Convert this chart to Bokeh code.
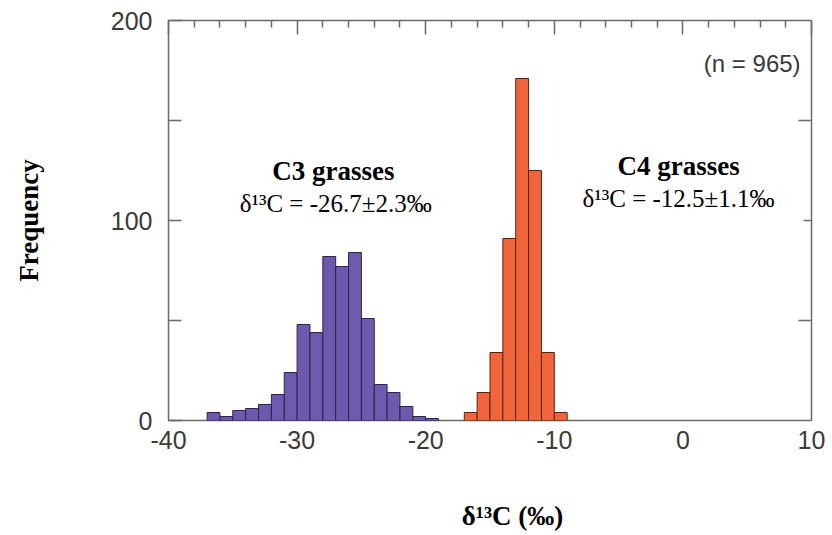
from bokeh.plotting import figure
from bokeh.models import LinearAxis, FixedTicker, Label, CustomJSTickFormatter
from bokeh.embed import file_html
from bokeh.resources import INLINE

# ---- data ----
c3_left = [-37, -36, -35, -34, -33, -32, -31, -30, -29, -28, -27, -26, -25, -24, -23, -22, -21, -20]
c3_counts = [4, 2, 5, 6, 8, 13, 24, 48, 44, 82, 77, 84, 51, 18, 14, 7, 2, 1]
c4_left = [-17, -16, -15, -14, -13, -12, -11, -10]
c4_counts = [4, 14, 34, 91, 171, 125, 34, 4]
bin_width = 1

x_ticks = [-40, -30, -20, -10, 0, 10]
x_labels = {-40: "-40", -30: "-30", -20: "-20", -10: "-10", 0: "0", 10: "10"}
x_minor = [-38, -36, -34, -32, -28, -26, -24, -22, -18, -16, -14, -12, -8, -6, -4, -2, 2, 4, 6, 8]
y_ticks = [0, 50, 100, 150, 200]
y_labels = {0: "0", 50: "", 100: "100", 150: "", 200: "200"}

x_title = "δ¹³C (‰)"
y_title = "Frequency"

PURPLE = "#6e5aad"
ORANGE = "#f0653b"
FRAME = "#6a6a6a"
TICKTXT = "#3a3a3a"
SANS = "Liberation Sans"
SERIF = "Liberation Serif"

p = figure(width=832, height=535, x_range=(-40, 10), y_range=(0, 200),
           output_backend="svg", toolbar_location=None,
           x_axis_location=None, y_axis_location=None,
           min_border_left=168, min_border_right=21,
           min_border_top=20, min_border_bottom=115)
p.background_fill_color = "white"
p.border_fill_color = "white"
p.outline_line_color = FRAME
p.outline_line_width = 1.5
p.xgrid.visible = False
p.ygrid.visible = False

# bars
p.quad(left=c3_left, right=[v + bin_width for v in c3_left], bottom=0, top=c3_counts,
       fill_color=PURPLE, line_color="#2b2350", line_width=1)
p.quad(left=c4_left, right=[v + bin_width for v in c4_left], bottom=0, top=c4_counts,
       fill_color=ORANGE, line_color="#5a2414", line_width=1)

# bottom axis (tick numbers)
xb = LinearAxis(ticker=FixedTicker(ticks=x_ticks), axis_line_color=None,
                major_tick_in=0, major_tick_out=0, minor_tick_in=0, minor_tick_out=0,
                major_label_overrides=x_labels,
                major_label_standoff=10, major_label_text_font=SANS,
                major_label_text_font_size="25px", major_label_text_color=TICKTXT)
p.add_layout(xb, "below")

# second bottom "axis" carrying the x title at its position in the reference
xlab = LinearAxis(ticker=FixedTicker(ticks=[-13.25]), axis_line_color=None,
                  major_tick_in=0, major_tick_out=0, minor_tick_in=0, minor_tick_out=0,
                  formatter=CustomJSTickFormatter(code='return "%s";' % x_title),
                  major_label_standoff=49, major_label_text_font=SERIF,
                  major_label_text_font_style="bold",
                  major_label_text_font_size="27px", major_label_text_color="black")
p.add_layout(xlab, "below")

# left axis
yl = LinearAxis(ticker=FixedTicker(ticks=y_ticks), axis_line_color=None,
                major_tick_in=13, major_tick_out=0, major_tick_line_color=FRAME,
                major_tick_line_width=1.5,
                minor_tick_in=0, minor_tick_out=0,
                major_label_overrides=y_labels, major_label_standoff=16,
                major_label_text_font=SANS, major_label_text_font_size="25px",
                major_label_text_color=TICKTXT,
                axis_label=y_title, axis_label_standoff=64,
                axis_label_text_font=SERIF, axis_label_text_font_style="bold",
                axis_label_text_font_size="27px", axis_label_text_color="black")
p.add_layout(yl, "left")

# top axis (ticks only, inward)
xt = LinearAxis(ticker=FixedTicker(ticks=x_ticks, minor_ticks=x_minor), axis_line_color=None,
                major_tick_in=14, major_tick_out=0, minor_tick_in=7, minor_tick_out=0,
                major_tick_line_color=FRAME, minor_tick_line_color=FRAME,
                major_tick_line_width=1.5, minor_tick_line_width=1.5,
                major_label_text_font_size="1px", major_label_text_color=None,
                major_label_standoff=0)
p.add_layout(xt, "above")

# right axis (ticks only, inward)
yr = LinearAxis(ticker=FixedTicker(ticks=[50, 150], minor_ticks=[100]), axis_line_color=None,
                major_tick_in=13, major_tick_out=0, minor_tick_in=8, minor_tick_out=0,
                major_tick_line_color=FRAME, minor_tick_line_color=FRAME,
                major_tick_line_width=1.5, minor_tick_line_width=1.5,
                major_label_text_font_size="1px", major_label_text_color=None,
                major_label_standoff=0)
p.add_layout(yr, "right")

# in-plot texts
def lab(x, y, text, font, size, style="normal", align="center", baseline="alphabetic",
        color="black"):
    p.add_layout(Label(x=x, y=y, text=text, text_font=font, text_font_size=size,
                       text_font_style=style, text_align=align, text_baseline=baseline,
                       text_color=color))

lab(-27.17, 124.6, "C3 grasses", SERIF, "27px", "bold")
lab(-27.0, 108.6, "δ¹³C = -26.7±2.3‰", SERIF, "25px")
lab(-0.34, 127.1, "C4 grasses", SERIF, "27px", "bold")
lab(-0.34, 111.1, "δ¹³C = -12.5±1.1‰", SERIF, "25px")
lab(9.15, 178.7, "(n = 965)", SANS, "24px", align="right", baseline="middle", color=TICKTXT)

open("out.html", "w").write(file_html(p, INLINE))
